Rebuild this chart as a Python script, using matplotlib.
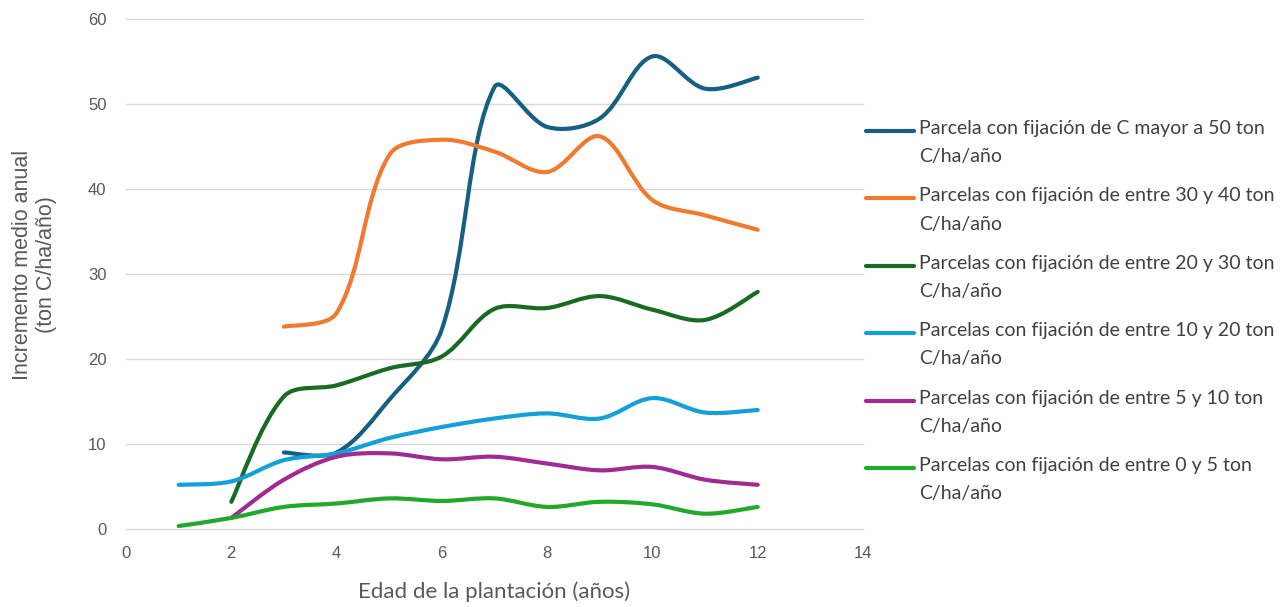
import matplotlib
matplotlib.use("Agg")
import matplotlib.pyplot as plt
import numpy as np
from matplotlib.path import Path
from matplotlib.patches import PathPatch
from matplotlib.lines import Line2D

# edad de la plantación (años) y series de incremento medio anual
edad = [1, 2, 3, 4, 5, 6, 7, 8, 9, 10, 11, 12]

mayor_50 = [None, None, 9.0, 9.0, 15.2, 23.5, 52.0, 47.3, 48.3, 55.6, 51.8, 53.1]
entre_30_40 = [None, None, 23.8, 25.4, 44.0, 45.8, 44.4, 42.0, 46.2, 38.7, 36.9, 35.2]
entre_20_30 = [None, 3.2, 15.6, 16.9, 18.9, 20.3, 25.9, 26.0, 27.4, 25.8, 24.6, 27.9]
entre_10_20 = [5.2, 5.6, 8.1, 8.9, 10.7, 12.0, 13.0, 13.6, 13.0, 15.4, 13.7, 14.0]
entre_5_10 = [None, 1.3, 5.8, 8.5, 8.9, 8.2, 8.5, 7.7, 6.9, 7.3, 5.8, 5.2]
entre_0_5 = [0.35, 1.3, 2.6, 3.0, 3.6, 3.3, 3.6, 2.6, 3.2, 2.9, 1.8, 2.6]

etiquetas = [
    "Parcela con fijación de C mayor a 50 ton\nC/ha/año",
    "Parcelas con fijación de entre 30 y 40 ton\nC/ha/año",
    "Parcelas con fijación de entre 20 y 30 ton\nC/ha/año",
    "Parcelas con fijación de entre 10 y 20 ton\nC/ha/año",
    "Parcelas con fijación de entre 5 y 10 ton\nC/ha/año",
    "Parcelas con fijación de entre 0 y 5 ton\nC/ha/año",
]
series = [mayor_50, entre_30_40, entre_20_30, entre_10_20, entre_5_10, entre_0_5]
colores = ["#156082", "#F07A2E", "#196B24", "#13A0D8", "#A02B93", "#22A82A"]


def smooth_path(ax, xs, ys):
    # bezier through every point; tangents scaled by neighbouring segment
    # lengths in screen space so steep jumps don't flatten the curve
    pts = np.array([(x, y) for x, y in zip(xs, ys) if y is not None], float)
    d = ax.transData.transform(pts)
    n = len(d)
    seg = np.hypot(*np.diff(d, axis=0).T)
    verts = [d[0]]
    for i in range(n - 1):
        prev = d[i - 1] if i > 0 else d[i]
        nxt = d[i + 2] if i + 2 < n else d[i + 1]
        l_prev = seg[i - 1] if i > 0 else seg[i]
        l_next = seg[i + 1] if i + 2 < n else seg[i]
        t1 = d[i + 1] - prev
        t2 = nxt - d[i]
        c1 = d[i] + t1 * seg[i] / (l_prev + seg[i]) / 3.0
        c2 = d[i + 1] - t2 * seg[i] / (seg[i] + l_next) / 3.0
        verts += [c1, c2, d[i + 1]]
    verts = ax.transData.inverted().transform(np.array(verts))
    codes = [Path.MOVETO] + [Path.CURVE4] * (len(verts) - 1)
    return Path(verts, codes)


fig = plt.figure(figsize=(12.83, 6.07), dpi=100)
ax = fig.add_axes([126 / 1283, 1 - 529 / 607, 737 / 1283, 510 / 607])
ax.set_xlim(0, 14)
ax.set_ylim(0, 60)

for vals, col in zip(series, colores):
    patch = PathPatch(smooth_path(ax, edad, vals), fill=False, edgecolor=col,
                      lw=3.0, capstyle="round", joinstyle="round", zorder=3)
    ax.add_patch(patch)

ax.set_xticks(range(0, 15, 2))
ax.set_yticks(range(0, 61, 10))

ax.grid(True, axis="y", color="#D9D9D9", lw=1.0)
ax.set_axisbelow(True)
for gl in ax.get_ygridlines():
    gl.set_clip_on(False)
for s in ax.spines.values():
    s.set_visible(False)

fuente = "Liberation Sans"
ax.tick_params(length=0, labelsize=12, labelcolor="#595959")
ax.tick_params(axis="y", pad=14)
ax.tick_params(axis="x", pad=12)
for lab in ax.get_xticklabels() + ax.get_yticklabels():
    lab.set_family(fuente)

ax.set_xlabel("Edad de la plantación (años)", fontsize=16, color="#595959",
              family="Lato", va="center")
ax.xaxis.set_label_coords(0.5, -0.123)
ax.set_ylabel("Incremento medio anual\n(ton C/ha/año)", fontsize=15.5,
              color="#595959", family=fuente, linespacing=1.2, va="center")
ax.yaxis.set_label_coords(-0.124, 0.518)

# leyenda dibujada a mano: trazo alineado con la primera línea del texto
leg_y0 = 131
leg_dy = 67.4
for i, (lab, col) in enumerate(zip(etiquetas, colores)):
    yp = leg_y0 + i * leg_dy
    yf = 1 - yp / 607
    fig.add_artist(Line2D([866 / 1283, 914 / 1283], [yf, yf], color=col, lw=3.0,
                          solid_capstyle="round", transform=fig.transFigure))
    fig.text(919 / 1283, 1 - (yp - 11) / 607, lab, fontsize=14, color="#404040",
             family="Lato", va="top", ha="left", linespacing=1.8)

fig.savefig("out.png", dpi=100)
plt.close(fig)
